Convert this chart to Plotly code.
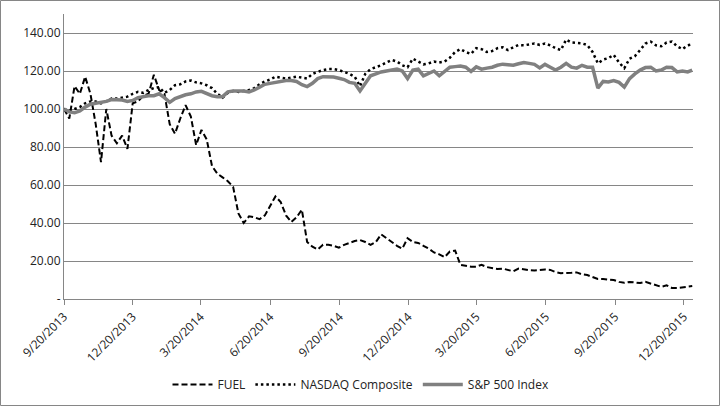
import pandas as pd
import plotly.graph_objects as go

dates = list(pd.date_range(start="2013-09-20", periods=119, freq="7D")) + [pd.Timestamp("2015-12-31")]

fuel = [100, 95, 112, 108, 117, 108, 92, 72, 100, 86,
        82, 86, 79, 103, 104, 107, 108, 118, 110, 108,
        92, 87, 95, 102, 96, 81, 89, 84, 70, 66,
        64, 62, 59, 45, 40, 43.5, 43, 42, 44, 49,
        54, 51, 44, 40.5, 43, 47, 30, 27.5, 26, 28.5,
        28.5, 28, 27, 28.5, 29.5, 30.5, 31, 30, 28.5, 30,
        34, 32, 30, 28, 26.5, 32, 30, 29.5, 28, 26.5,
        24.5, 23.5, 22, 25, 25.5, 18, 17.5, 17, 17, 18,
        16.8, 16.2, 15.8, 16, 15.5, 14.6, 16, 15.5, 15.2, 15,
        15.2, 15.5, 15.3, 14.2, 13.6, 13.6, 13.8, 14, 13, 12.6,
        11.5, 10.5, 10.5, 10.3, 10, 9, 8.5, 9, 8.6, 8.4,
        9, 8.2, 7.5, 6.4, 7.2, 5.8, 5.8, 6.2, 6.5, 6.8]

nasdaq = [100, 99, 100, 101, 103, 104, 104, 103, 104, 105.5,
          105.5, 106, 106.5, 108, 109, 108.5, 110, 111, 111.5, 108.5,
          110, 112.5, 113, 114.5, 115, 114, 113.5, 112.5, 111, 108,
          106, 108.5, 109.5, 109, 109.5, 110, 111, 113, 114.5, 115.5,
          117, 116.5, 116, 116.5, 117, 116.5, 116, 118.5, 119.5, 120.5,
          121, 121, 120.5, 119.5, 118.5, 117, 112, 118.5, 121, 122,
          123, 124.5, 125.8, 125, 123, 122, 126.5, 125, 123.5, 124,
          125, 124.5, 125, 127, 130, 131.5, 130, 129, 132, 131.5,
          130, 130.5, 132, 132.5, 131, 132.5, 133.7, 133.5, 134, 134.5,
          133.7, 134.5, 133.5, 132, 131, 136.5, 135, 134.8, 134.5, 133.7,
          130, 124, 126, 126.8, 128.5, 124.5, 121.5, 126.5, 127.8, 131,
          134.5, 135.5, 133.5, 133, 135, 135.5, 133, 131.5, 133.5, 134]

sp500 = [100, 98.5, 98, 99, 101, 102.5, 103, 103.5, 104, 105,
         105, 104.7, 104, 104.5, 106, 106.5, 107, 107, 108, 106,
         103.5, 105.5, 106.5, 107.5, 108, 109, 109.3, 108, 107, 106.5,
         106.5, 109, 109.5, 109.5, 109.5, 109, 110, 111.5, 113, 113.5,
         114, 114.5, 115, 115, 114.5, 112.8, 111.8, 113.5, 116, 117,
         117, 116.8, 116.2, 115.5, 114, 113.5, 109.5, 113.5, 117.5, 118.5,
         119.5, 120, 120.5, 121, 120, 116, 120.5, 121, 117.5, 119,
         120, 117.5, 119.5, 122, 122.3, 122.6, 122, 119.8, 122.2, 121,
         121.5, 122, 123, 123.6, 123.3, 123, 123.8, 124.5, 124, 123.5,
         121.6, 123.5, 122, 120.5, 122, 124, 122, 121.5, 123, 122,
         122, 111, 114.5, 114.2, 115, 114, 111.5, 116, 118.5, 120.5,
         121.8, 122, 120, 120.5, 122, 121.8, 119.5, 120, 119.5, 120.5]

series_names = ["FUEL", "NASDAQ Composite", "S&P 500 Index"]

tick_dates = ["2013-09-20", "2013-12-20", "2014-03-20", "2014-06-20", "2014-09-20",
              "2014-12-20", "2015-03-20", "2015-06-20", "2015-09-20", "2015-12-20"]
tick_labels = ["9/20/2013", "12/20/2013", "3/20/2014", "6/20/2014", "9/20/2014",
               "12/20/2014", "3/20/2015", "6/20/2015", "9/20/2015", "12/20/2015"]

y_ticks = [0, 20, 40, 60, 80, 100, 120, 140]
y_labels = ["-", "20.00", "40.00", "60.00", "80.00", "100.00", "120.00", "140.00"]

fig = go.Figure()
fig.add_trace(go.Scatter(x=dates, y=fuel, name=series_names[0], mode="lines",
                         line=dict(color="black", width=2, dash="6px,3px")))
fig.add_trace(go.Scatter(x=dates, y=nasdaq, name=series_names[1], mode="lines",
                         line=dict(color="black", width=2.5, dash="2.5px,3px")))
fig.add_trace(go.Scatter(x=dates, y=sp500, name=series_names[2], mode="lines",
                         line=dict(color="#808080", width=3.5)))

font_family = "Open Sans, Noto Sans, sans-serif"
pw = 720 - 64 - 27
ph = 406 - 14 - 107

fig.update_layout(
    width=720, height=406,
    margin=dict(l=64, r=27, t=14, b=107, autoexpand=False),
    paper_bgcolor="white", plot_bgcolor="white",
    font=dict(family=font_family, size=12, color="#222222"),
    showlegend=True,
    legend=dict(orientation="h", x=(361 - 64) / pw, xanchor="center", y=-0.30, yanchor="middle",
                font=dict(size=12, color="#222222"), itemwidth=40),
    xaxis=dict(type="date", range=["2013-09-20", "2016-01-01"], automargin=False,
               tickmode="array", tickvals=tick_dates, ticktext=tick_labels,
               tickangle=-45, showgrid=False, showline=True, linecolor="#868686",
               linewidth=1, ticks="outside", ticklen=5, tickcolor="#868686",
               tickfont=dict(size=12, color="#222222")),
    yaxis=dict(range=[0, 150], tickmode="array", tickvals=y_ticks, ticktext=y_labels,
               automargin=False,
               showgrid=True, gridcolor="#868686", gridwidth=1, zeroline=False,
               showline=True, linecolor="#868686", linewidth=1, ticks="",
               tickfont=dict(size=12, color="#222222")),
    shapes=[dict(type="rect", xref="paper", yref="paper",
                 x0=(0.5 - 64) / pw, x1=(719.5 - 64) / pw,
                 y0=(ph - (405.5 - 14)) / ph, y1=(ph + 13.5) / ph,
                 line=dict(color="#868686", width=1), fillcolor="rgba(0,0,0,0)",
                 layer="below")],
)

fig.write_html("out.html", config={"displayModeBar": False},
               post_script="document.body.style.margin='0';document.body.style.overflow='hidden';")
